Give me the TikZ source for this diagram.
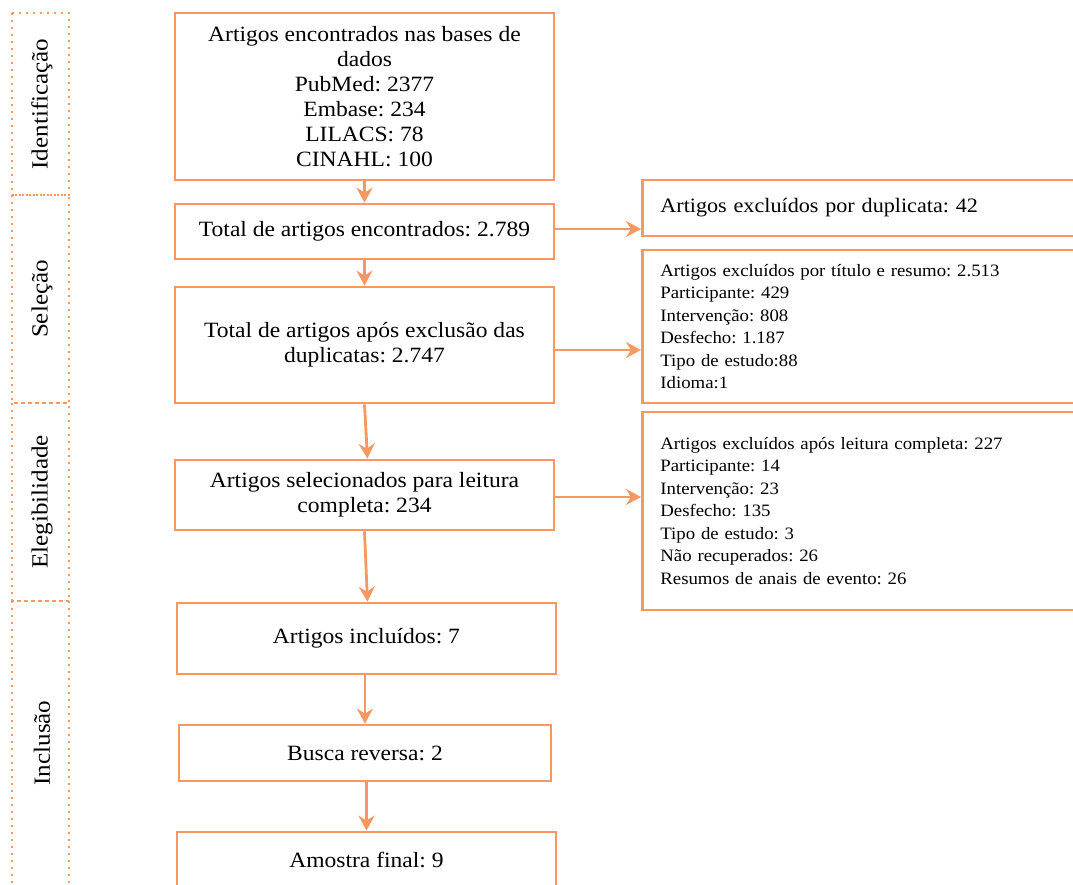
\documentclass[tikz,border=0pt]{standalone}
\usepackage{fontspec}
\setmainfont{Liberation Serif}[FakeStretch=1.08]
\usetikzlibrary{arrows.meta}
\definecolor{flow}{RGB}{247,152,96}
\frenchspacing
\tikzset{
  box/.style={draw=flow, line width=2.8pt, rectangle, align=center, inner sep=4pt,
    font=\fontsize{21.8}{25}\selectfont},
  sidebox/.style={draw=flow, line width=2.8pt, rectangle, align=left, anchor=west,
    minimum width=460pt, text width=424pt, inner xsep=18pt,
    font=\fontsize{17.4}{22.5}\selectfont},
  arr/.style={draw=flow, line width=2.8pt, -{Stealth[length=15pt,width=16pt,inset=5pt]}},
  stage/.style={draw=flow, line width=2.2pt, dash pattern=on 1.8pt off 5.2pt},
  stagelabel/.style={rotate=90, font=\fontsize{23.2}{26}\selectfont}
}
\begin{document}
\begin{tikzpicture}[x=1pt,y=-1pt]
\useasboundingbox (0,0) rectangle (1073,884);
\clip (0,0) rectangle (1073,884);

% stage column
\draw[stage] (12,13) rectangle (69,195);
\draw[stage] (12,195) rectangle (69,403);
\draw[stage] (12,403) rectangle (69,601);
\draw[stage] (12,601) -- (12,900);
\draw[stage] (69,601) -- (69,900);
\draw[stage] (12,601) -- (69,601);
\node[stagelabel] (lid) at (42,104) {Identificação};
\node[stagelabel] (lsel) at (42,299) {Seleção};
\node[stagelabel] (lele) at (42,502) {Elegibilidade};
\node[stagelabel] (linc) at (42,743) {Inclusão};

% main column
\node[box, minimum width=379pt, minimum height=167pt] (b1) at (364.5,96.5)
  {Artigos encontrados nas bases de\\ dados\\ PubMed: 2377\\ Embase: 234\\ LILACS: 78\\ CINAHL: 100};
\node[box, minimum width=379pt, minimum height=55pt] (b2) at (364.5,231.5)
  {Total de artigos encontrados: 2.789};
\node[box, minimum width=379pt, minimum height=116pt] (b3) at (364.5,345)
  {Total de artigos após exclusão das\\ duplicatas: 2.747};
\node[box, minimum width=379pt, minimum height=70pt] (b4) at (364.5,495)
  {Artigos selecionados para leitura\\ completa: 234};
\node[box, minimum width=379pt, minimum height=71pt] (b5) at (366.5,638.5)
  {Artigos incluídos: 7};
\node[box, minimum width=372pt, minimum height=56pt] (b6) at (365,753)
  {Busca reversa: 2};
\node[box, minimum width=379pt, minimum height=56pt] (b7) at (366.5,860)
  {Amostra final: 9};

% side boxes
\node[sidebox, minimum height=56pt, font=\fontsize{20.5}{25}\selectfont] (r1) at (641,208)
  {Artigos excluídos por duplicata: 42};
\node[sidebox, minimum height=153pt] (r2) at (641,326.5)
  {Artigos excluídos por título e resumo: 2.513\\ Participante: 429\\ Intervenção: 808\\ Desfecho: 1.187\\ Tipo de estudo:88\\ Idioma:1};
\node[sidebox, minimum height=198pt] (r3) at (641,511)
  {Artigos excluídos após leitura completa: 227\\ Participante: 14\\ Intervenção: 23\\ Desfecho: 135\\ Tipo de estudo: 3\\ Não recuperados: 26\\ Resumos de anais de evento: 26};

% vertical arrows
\draw[arr] (b1.south) -- (b2.north);
\draw[arr] (b2.south) -- (b3.north);
\draw[arr] (b3.south) -- ([xshift=3pt]b4.north);
\draw[arr] (b4.south) -- ([xshift=1pt]b5.north);
\draw[arr] ([xshift=-1.5pt]b5.south) -- (b6.north);
\draw[arr] ([xshift=1.5pt]b6.south) -- (b7.north);

% horizontal arrows
\coordinate (a2) at ([yshift=2.5pt]b2.east);
\coordinate (a3) at ([yshift=-5pt]b3.east);
\coordinate (a4) at ([yshift=-2pt]b4.east);
\draw[arr] (a2) -- (r1.west |- a2);
\draw[arr] (a3) -- (r2.west |- a3);
\draw[arr] (a4) -- (r3.west |- a4);
\end{tikzpicture}
\end{document}
